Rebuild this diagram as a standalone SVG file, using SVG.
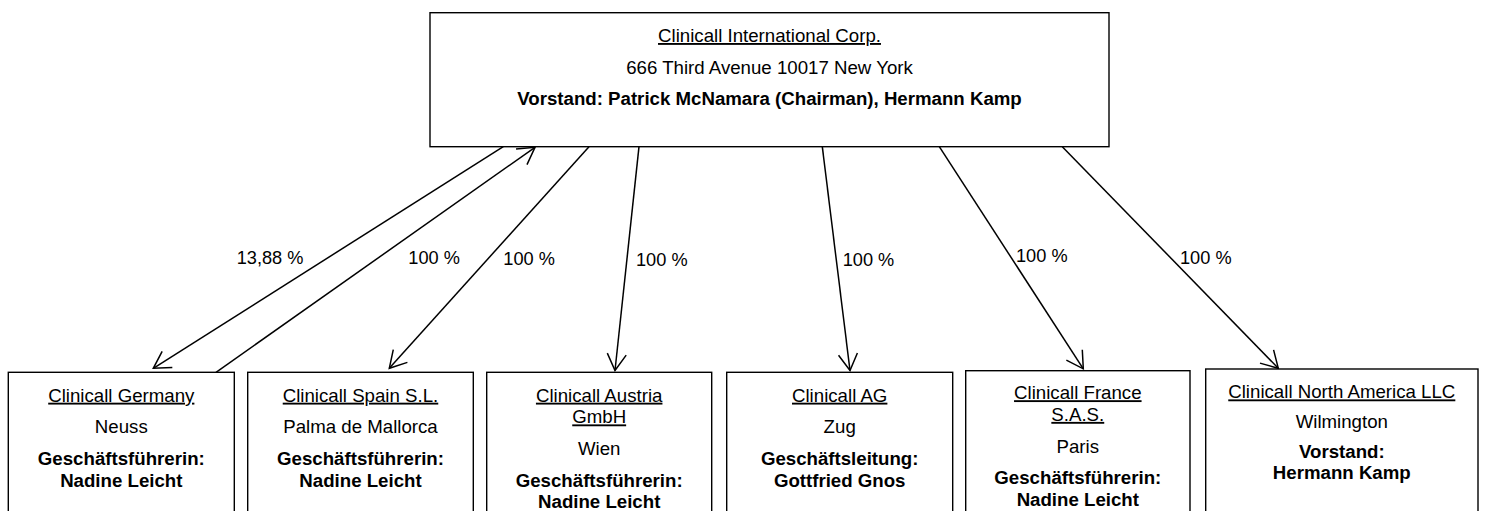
<svg xmlns="http://www.w3.org/2000/svg" width="1485" height="511" viewBox="0 0 1485 511">
<style>
  .box { fill: #ffffff; stroke: #000000; stroke-width: 1.4; }
  text { font-family: "Liberation Sans", Arial, sans-serif; font-size: 18.67px; fill: #000000; }
  .c { text-anchor: middle; }
  .u { text-decoration: underline; }
  .b { font-weight: bold; }
  .lbl { font-size: 18.2px; }
  .con { stroke: #000000; stroke-width: 1.5; fill: none; marker-end: url(#arr); }
</style>
<defs>
  <marker id="arr" markerUnits="userSpaceOnUse" orient="auto" refX="0" refY="0" markerWidth="20" markerHeight="20" overflow="visible">
    <path d="M-16.5,-9.5 L0,0 L-16.5,9.5" fill="none" stroke="#000000" stroke-width="1.5"/>
  </marker>
</defs>
<rect width="1485" height="511" fill="#ffffff"/>

<g id="connectors">
  <line class="con" x1="503.3" y1="146.7" x2="153.3" y2="368.3"/>
  <line class="con" x1="216" y1="372.3" x2="535" y2="147.3"/>
  <line class="con" x1="589" y1="146.7" x2="389.3" y2="368.3"/>
  <line class="con" x1="639" y1="146.7" x2="615" y2="370.5"/>
  <line class="con" x1="822.3" y1="146.7" x2="850" y2="370.5"/>
  <line class="con" x1="939.3" y1="146.7" x2="1083.3" y2="368.8"/>
  <line class="con" x1="1062.3" y1="146.7" x2="1278.3" y2="368.3"/>
  <text class="lbl" x="236.7" y="263.5">13,88 %</text>
  <text class="lbl" x="408.3" y="263.5">100 %</text>
  <text class="lbl" x="503.3" y="265">100 %</text>
  <text class="lbl" x="636" y="266">100 %</text>
  <text class="lbl" x="842.7" y="266">100 %</text>
  <text class="lbl" x="1016" y="261.5">100 %</text>
  <text class="lbl" x="1180" y="263.5">100 %</text>
</g>

<g id="node-top">
  <rect class="box" x="430" y="12.7" width="679" height="134"/>
  <text class="c u" x="769.5" y="42">Clinicall International Corp.</text>
  <text class="c" x="769.5" y="73.8">666 Third Avenue 10017 New York</text>
  <text class="c b" x="769.5" y="105.4">Vorstand: Patrick McNamara (Chairman), Hermann Kamp</text>
</g>

<g id="node-germany">
  <rect class="box" x="8.3" y="372.3" width="226" height="160"/>
  <text class="c u" x="121.3" y="401.7">Clinicall Germany</text>
  <text class="c" x="121.3" y="433.4">Neuss</text>
  <text class="c b" x="121.3" y="465">Geschäftsführerin:</text>
  <text class="c b" x="121.3" y="486.7">Nadine Leicht</text>
</g>

<g id="node-spain">
  <rect class="box" x="247.7" y="372.3" width="225.6" height="160"/>
  <text class="c u" x="360.5" y="401.7">Clinicall Spain S.L.</text>
  <text class="c" x="360.5" y="433.4">Palma de Mallorca</text>
  <text class="c b" x="360.5" y="465">Geschäftsführerin:</text>
  <text class="c b" x="360.5" y="486.7">Nadine Leicht</text>
</g>

<g id="node-austria">
  <rect class="box" x="486.7" y="372.3" width="225" height="160"/>
  <text class="c u" x="599.2" y="401.7">Clinicall Austria</text>
  <text class="c u" x="599.2" y="423.4">GmbH</text>
  <text class="c" x="599.2" y="455">Wien</text>
  <text class="c b" x="599.2" y="486.7">Geschäftsführerin:</text>
  <text class="c b" x="599.2" y="508.4">Nadine Leicht</text>
</g>

<g id="node-ag">
  <rect class="box" x="726.7" y="372.3" width="226" height="160"/>
  <text class="c u" x="839.7" y="401.7">Clinicall AG</text>
  <text class="c" x="839.7" y="433.4">Zug</text>
  <text class="c b" x="839.7" y="465">Geschäftsleitung:</text>
  <text class="c b" x="839.7" y="486.7">Gottfried Gnos</text>
</g>

<g id="node-france">
  <rect class="box" x="965.7" y="370.7" width="224.3" height="160"/>
  <text class="c u" x="1077.8" y="399.2">Clinicall France</text>
  <text class="c u" x="1077.8" y="420.9">S.A.S.</text>
  <text class="c" x="1077.8" y="452.5">Paris</text>
  <text class="c b" x="1077.8" y="484.2">Geschäftsführerin:</text>
  <text class="c b" x="1077.8" y="505.9">Nadine Leicht</text>
</g>

<g id="node-northamerica">
  <rect class="box" x="1205.7" y="369" width="272.3" height="160"/>
  <text class="c u" x="1341.8" y="398.4">Clinicall North America LLC</text>
  <text class="c" x="1341.8" y="428.4">Wilmington</text>
  <text class="c b" x="1341.8" y="458.4">Vorstand:</text>
  <text class="c b" x="1341.8" y="479.4">Hermann Kamp</text>
</g>
</svg>
